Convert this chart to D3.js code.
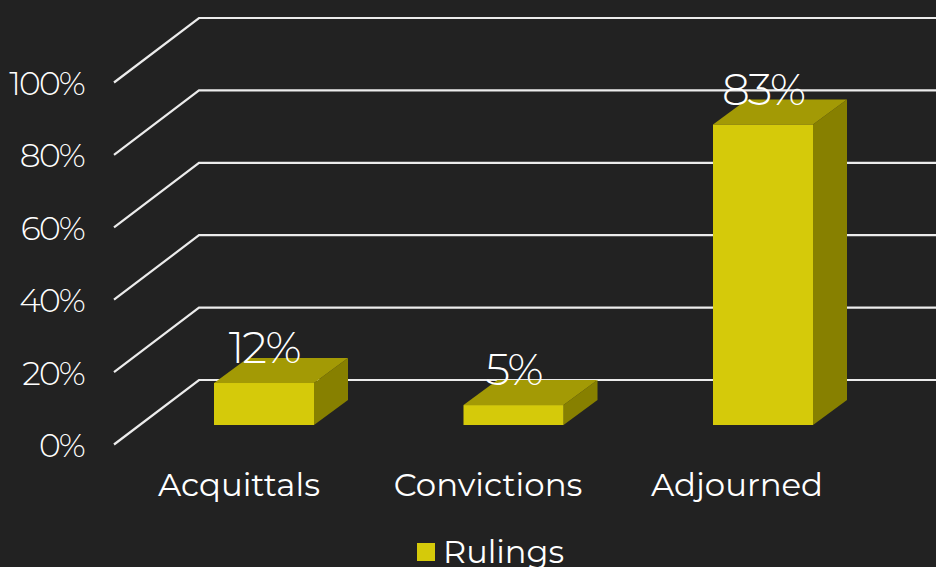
<!DOCTYPE html>
<html><head><meta charset="utf-8">
<script src="https://cdn.jsdelivr.net/npm/d3@7"></script>
<style>html,body{margin:0;padding:0;background:#222222;overflow:hidden}text{font-family:Montserrat,"Open Sans",Lato,sans-serif;fill:#fff}</style>
</head><body><svg id="c" width="936" height="567"></svg>
<script>
const categories=["Acquittals","Convictions","Adjourned"];
const rulings=[11.6,5.5,83];
const valueLabels=["12%","5%","83%"];
const yTicks=[0,20,40,60,80,100];
const seriesName="Rulings";
const svg=d3.select("#c");
svg.append("rect").attr("width",936).attr("height",567).attr("fill","#222222");
const y=d3.scaleLinear().domain([0,100]).range([380,18]);
const depthX=34,depthY=-25;
const grid=svg.append("g");
yTicks.forEach(t=>{
  const yy=y(t);
  grid.append("path").attr("d",`M114,${yy+64.5}L199,${yy}L936,${yy}`).attr("fill","none").attr("stroke","#ececec").attr("stroke-width",2.2);
  svg.append("text").attr("x",84).attr("y",yy+77).attr("text-anchor","end").attr("font-size",33).attr("font-weight",300).attr("letter-spacing",-1.8).text(t+"%");
});
const base=425;
const h=d3.scaleLinear().domain([0,100]).range([0,362]);
const bw=100;
const barCenter=d3.scalePoint().domain(categories).range([264,763]);
const labelCenter=d3.scalePoint().domain(categories).range([239,737]);
categories.forEach((c,i)=>{
  const cx=barCenter(c);
  const l=cx-bw/2,r=l+bw,top=base-h(rulings[i]);
  svg.append("path").attr("d",`M${r},${top}L${r+depthX},${top+depthY}L${r+depthX},${base+depthY}L${r},${base}Z`).attr("fill","#878000");
  svg.append("path").attr("d",`M${l},${top}L${l+depthX},${top+depthY}L${r+depthX},${top+depthY}L${r},${top}Z`).attr("fill","#a39a05");
  svg.append("rect").attr("x",l).attr("y",top).attr("width",bw).attr("height",base-top).attr("fill","#d5ca0a");
  svg.append("text").attr("x",cx).attr("y",top-20).attr("text-anchor","middle").attr("font-size",44).attr("font-weight",300).attr("letter-spacing",-2).text(valueLabels[i]);
  svg.append("text").attr("x",labelCenter(c)).attr("y",496).attr("text-anchor","middle").attr("font-size",32.4).text(c);
});
svg.append("rect").attr("x",417).attr("y",543).attr("width",18).attr("height",18).attr("fill","#d5ca0a");
svg.append("text").attr("x",443).attr("y",563).attr("font-size",32).text(seriesName);
</script></body></html>
